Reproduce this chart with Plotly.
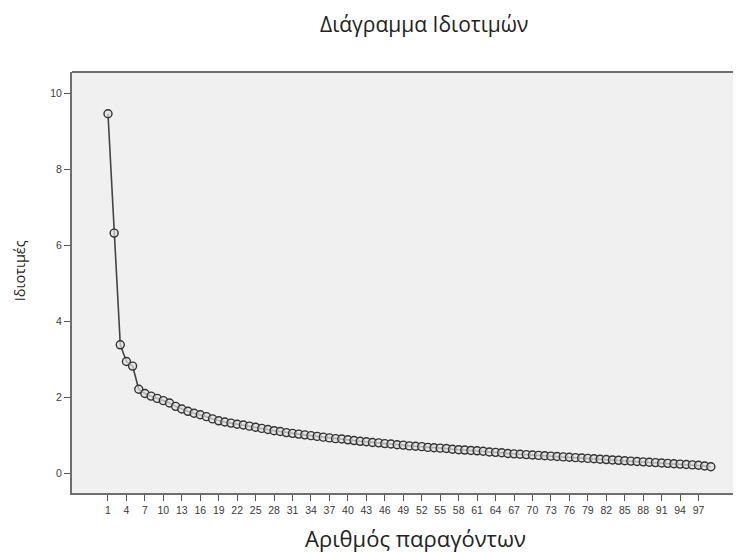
import plotly.graph_objects as go

factors = list(range(1, 100))
eigenvalues = [
    9.46, 6.32, 3.38, 2.94, 2.82, 2.21, 2.10, 2.03, 1.97, 1.91,
    1.85, 1.76, 1.69, 1.63, 1.58, 1.54, 1.49, 1.43, 1.38, 1.35,
    1.32, 1.29, 1.27, 1.24, 1.21, 1.18, 1.15, 1.12, 1.10, 1.07,
    1.05, 1.03, 1.01, 0.99, 0.97, 0.95, 0.93, 0.91, 0.90, 0.88,
    0.86, 0.84, 0.83, 0.81, 0.80, 0.78, 0.77, 0.75, 0.74, 0.72,
    0.71, 0.70, 0.68, 0.67, 0.66, 0.65, 0.63, 0.62, 0.61, 0.60,
    0.59, 0.58, 0.56, 0.55, 0.54, 0.52, 0.51, 0.50, 0.49, 0.48,
    0.47, 0.46, 0.45, 0.44, 0.43, 0.42, 0.41, 0.40, 0.39, 0.38,
    0.37, 0.36, 0.35, 0.34, 0.33, 0.32, 0.31, 0.30, 0.29, 0.28,
    0.27, 0.26, 0.25, 0.24, 0.23, 0.22, 0.21, 0.19, 0.17,
]
x_ticks = [1, 4, 7, 10, 13, 16, 19, 22, 25, 28, 31, 34, 37, 40, 43, 46, 49,
           52, 55, 58, 61, 64, 67, 70, 73, 76, 79, 82, 85, 88, 91, 94, 97]
y_ticks = [0, 2, 4, 6, 8, 10]

title_text = "Διάγραμμα Ιδιοτιμών"
x_title = "Αριθμός παραγόντων"
y_title = "Ιδιοτιμές"

TITLE_FONT = "Open Sans, DejaVu Sans, sans-serif"

fig = go.Figure()
fig.add_trace(go.Scatter(
    x=factors, y=eigenvalues, mode="lines+markers",
    line=dict(color="#444444", width=1.6),
    marker=dict(symbol="circle", size=8, color="rgba(225,225,225,0.7)",
                line=dict(color="#333333", width=1.4)),
    showlegend=False, hoverinfo="x+y",
))

axis_common = dict(
    showgrid=False, zeroline=False, showline=True, linecolor="#6e6e6e",
    linewidth=2, ticks="outside", ticklen=6, tickwidth=1, tickcolor="#555555",
    tickfont=dict(family="Liberation Sans, Arial, sans-serif", size=10.5, color="#3a3a3a"),
)

fig.update_layout(
    width=733, height=544,
    margin=dict(l=64, r=0, t=64, b=59),
    paper_bgcolor="white", plot_bgcolor="#f0f0f0",
    xaxis=dict(range=[-4.85, 103.9], tickmode="array", tickvals=x_ticks,
               ticktext=[str(t) for t in x_ticks], mirror=False, **axis_common),
    yaxis=dict(range=[-0.52, 10.56], tickmode="array", tickvals=y_ticks,
               ticktext=[str(t) for t in y_ticks], mirror=False, **axis_common),
    shapes=[dict(type="line", xref="paper", yref="paper", x0=0, x1=1, y0=1, y1=1,
                 line=dict(color="#6e6e6e", width=2))],
    annotations=[
        dict(text=title_text, xref="paper", yref="paper", x=0.526, y=1.114,
             xanchor="center", yanchor="middle", showarrow=False,
             font=dict(family=TITLE_FONT, size=21, color="#222222")),
        dict(text=x_title, xref="paper", yref="paper", x=0.513, y=-0.107,
             xanchor="center", yanchor="middle", showarrow=False,
             font=dict(family=TITLE_FONT, size=22, color="#222222")),
        dict(text=y_title, xref="paper", yref="paper", x=-0.079, y=0.527,
             xanchor="center", yanchor="middle", showarrow=False, textangle=-90,
             borderpad=0, borderwidth=0,
             font=dict(family=TITLE_FONT, size=14.5, color="#222222")),
    ],
)

fig.write_html("out.html")
